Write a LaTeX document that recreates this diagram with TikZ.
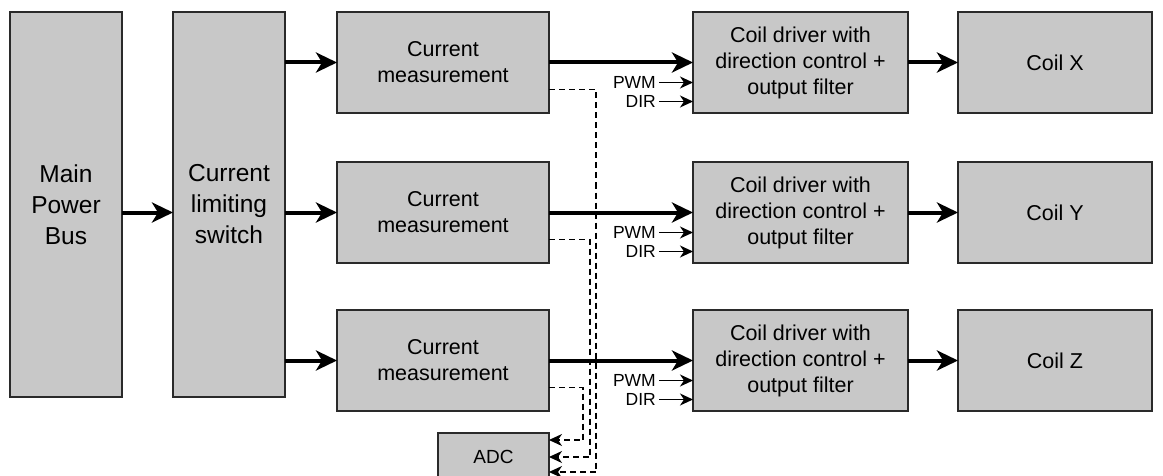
\documentclass[tikz,border=0pt]{standalone}
\usepackage{fontspec}
\setmainfont{Liberation Sans}
\usepackage{xcolor}
\usepackage{tikz}
\usetikzlibrary{positioning,arrows.meta}

\definecolor{boxgray}{HTML}{C8C8C8}
\definecolor{linegray}{HTML}{2A2A2A}

\begin{document}
\begin{tikzpicture}[
  x=1pt, y=1pt,
  font=\fontsize{21.5}{26}\selectfont,
  blk/.style={draw=linegray, line width=1.2pt, fill=boxgray, align=center,
              outer sep=0pt, inner sep=2pt},
  bus/.style={blk, minimum width=112pt, minimum height=385pt,
              font=\fontsize{24.5}{31}\selectfont},
  meas/.style={blk, minimum width=212pt, minimum height=101pt},
  drv/.style={blk, minimum width=215pt, minimum height=101pt},
  coil/.style={blk, minimum width=194pt, minimum height=101pt},
  lbl/.style={inner sep=3pt, font=\fontsize{17.5}{17.5}\selectfont, anchor=east},
  power/.style={line width=4pt, -{Stealth[length=21pt, width=20pt, inset=6pt]}},
  ctrl/.style={line width=1.3pt, -{Stealth[length=13pt, width=12pt, inset=4pt]}},
  sense/.style={line width=1.2pt, dash pattern=on 6pt off 4pt,
                -{Stealth[length=13pt, width=12pt, inset=4pt]}}
]
\useasboundingbox (0,0) rectangle (1163,475);

\node[bus] (main) at (66,270.5) {Main\\Power\\Bus};
\node[bus, right=51pt of main] (switch) {Current\\limiting\\switch};

\node[meas] (m1) at (443,412.5) {Current\\measurement};
\node[meas, below=49pt of m1] (m2) {Current\\measurement};
\node[meas, below=47pt of m2] (m3) {Current\\measurement};

\node[drv, right=144pt of m1] (d1) {Coil driver with\\direction control +\\output filter};
\node[drv, right=144pt of m2] (d2) {Coil driver with\\direction control +\\output filter};
\node[drv, right=144pt of m3] (d3) {Coil driver with\\direction control +\\output filter};

\node[coil, right=50pt of d1] (c1) {Coil X};
\node[coil, right=50pt of d2] (c2) {Coil Y};
\node[coil, right=50pt of d3] (c3) {Coil Z};

\node[blk, minimum width=111pt, minimum height=48pt, font=\fontsize{19}{19}\selectfont] (adc) at (493.5,18) {ADC};

% PWM / DIR inputs
\node[lbl] (pwm1) at ([xshift=-34pt,yshift=-20pt]d1.west) {PWM};
\node[lbl] (dir1) at ([xshift=-34pt,yshift=-39pt]d1.west) {DIR};
\node[lbl] (pwm2) at ([xshift=-34pt,yshift=-20pt]d2.west) {PWM};
\node[lbl] (dir2) at ([xshift=-34pt,yshift=-39pt]d2.west) {DIR};
\node[lbl] (pwm3) at ([xshift=-34pt,yshift=-20pt]d3.west) {PWM};
\node[lbl] (dir3) at ([xshift=-34pt,yshift=-39pt]d3.west) {DIR};

% sense lines to the ADC
\draw[sense] ([yshift=-27pt]m1.east) -| ([xshift=47pt,yshift=-15pt]adc.east) -- ([yshift=-15pt]adc.east);
\draw[sense] ([yshift=-27pt]m2.east) -| ([xshift=41pt]adc.east) -- (adc.east);
\draw[sense] ([yshift=-27pt]m3.east) -| ([xshift=34pt,yshift=17pt]adc.east) -- ([yshift=17pt]adc.east);

% power path
\draw[power] (main.east |- m2) -- (switch.east |- m2 -| switch.west);
\draw[power] (switch.east |- m1) -- (m1.west);
\draw[power] (switch.east |- m2) -- (m2.west);
\draw[power] (switch.east |- m3) -- (m3.west);
\draw[power] (m1) -- (d1);
\draw[power] (m2) -- (d2);
\draw[power] (m3) -- (d3);
\draw[power] (d1) -- (c1);
\draw[power] (d2) -- (c2);
\draw[power] (d3) -- (c3);

\draw[ctrl] (pwm1.east) -- (pwm1 -| d1.west);
\draw[ctrl] (dir1.east) -- (dir1 -| d1.west);
\draw[ctrl] (pwm2.east) -- (pwm2 -| d2.west);
\draw[ctrl] (dir2.east) -- (dir2 -| d2.west);
\draw[ctrl] (pwm3.east) -- (pwm3 -| d3.west);
\draw[ctrl] (dir3.east) -- (dir3 -| d3.west);
\end{tikzpicture}
\end{document}
